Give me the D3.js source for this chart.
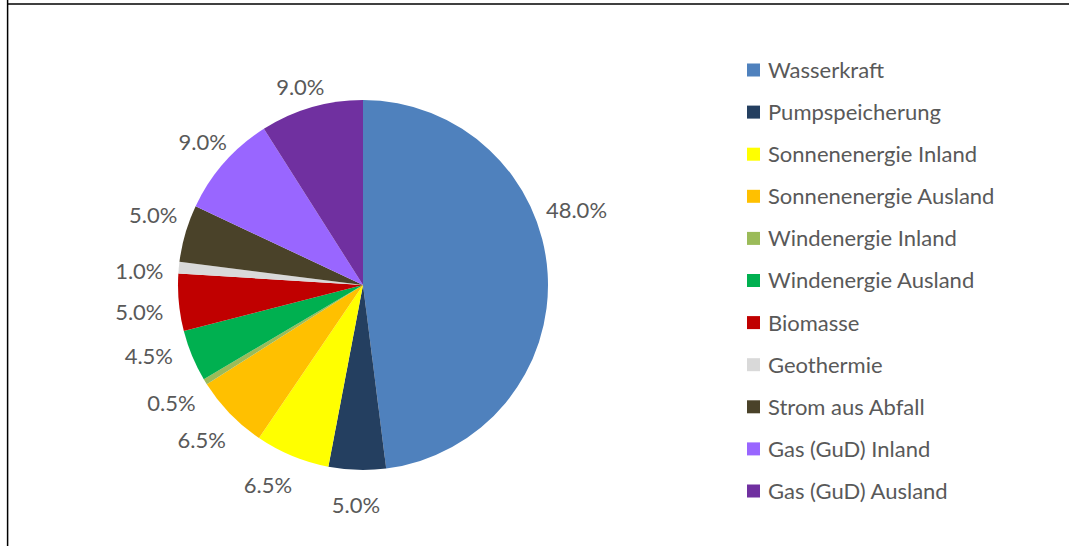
<!DOCTYPE html>
<html>
<head>
<meta charset="utf-8">
<script src="https://cdn.jsdelivr.net/npm/d3@7"></script>
<style>
  html, body { margin: 0; padding: 0; background: #ffffff; }
  svg { display: block; }
  text { font-family: Lato, "Open Sans", sans-serif; fill: #595959; }
</style>
</head>
<body>
<svg id="chart" width="1069" height="546"></svg>
<script>
// Electricity mix by source (share in %)
const categories = [
  "Wasserkraft", "Pumpspeicherung", "Sonnenenergie Inland", "Sonnenenergie Ausland",
  "Windenergie Inland", "Windenergie Ausland", "Biomasse", "Geothermie",
  "Strom aus Abfall", "Gas (GuD) Inland", "Gas (GuD) Ausland"
];
const shares = [48.0, 5.0, 6.5, 6.5, 0.5, 4.5, 5.0, 1.0, 5.0, 9.0, 9.0];
const colors = [
  "#4f81bd", "#243f60", "#ffff00", "#ffc000", "#9bbb59", "#00b050",
  "#c00000", "#d9d9d9", "#4a4229", "#9966ff", "#7030a0"
];
// Label directions (degrees clockwise from 12 o'clock) where the label was pulled away from its slice's midline
const labelAngleHints = {
  "Wasserkraft": 67.5,
  "Sonnenenergie Inland": 205,
  "Windenergie Ausland": 252.4,
  "Strom aus Abfall": 291,
  "Gas (GuD) Inland": 314.5
};

const svg = d3.select("#chart");
const cx = 363, cy = 285, radius = 185;

// Frame (top and left edges)
svg.append("line").attr("x1", 7.6).attr("y1", 0).attr("x2", 7.6).attr("y2", 546)
  .attr("stroke", "#000").attr("stroke-width", 1.5);
svg.append("line").attr("x1", 7).attr("y1", 4).attr("x2", 1069).attr("y2", 4)
  .attr("stroke", "#000").attr("stroke-width", 1.5);

const data = categories.map((c, i) => ({ name: c, value: shares[i], color: colors[i] }));
const pie = d3.pie().value(d => d.value).sort(null);
const arcs = pie(data);
const arc = d3.arc().innerRadius(0).outerRadius(radius);

const g = svg.append("g").attr("transform", `translate(${cx},${cy})`);
g.selectAll("path.slice").data(arcs).join("path")
  .attr("class", "slice")
  .attr("d", arc)
  .attr("fill", d => d.data.color);

// Data labels placed just outside the rim
const fmt = d3.format(".1f");
const gap = 200.5, halfH = 12.9, dyOff = 6.6, capHalf = 7.9;
const labels = svg.append("g");
arcs.forEach(a => {
  const t = labels.append("text")
    .attr("text-anchor", "middle")
    .attr("font-size", 22)
    .text(fmt(a.data.value) + "%");
  const w = t.node().getComputedTextLength();
  const hint = labelAngleHints[a.data.name];
  const ang = hint !== undefined ? hint * Math.PI / 180 : (a.startAngle + a.endAngle) / 2;
  const ux = Math.sin(ang), uy = -Math.cos(ang);
  const x = cx + gap * ux + ux * w / 2;
  const y = cy + gap * uy + uy * halfH + dyOff;
  t.attr("x", x).attr("y", y + capHalf);
});

// Legend
const legendX = 747, legendY0 = 70, legendStep = 42.1, sq = 13;
const legend = svg.append("g");
data.forEach((d, i) => {
  const y = legendY0 + i * legendStep;
  legend.append("rect")
    .attr("x", legendX).attr("y", y - sq / 2)
    .attr("width", sq).attr("height", sq)
    .attr("fill", d.color);
  legend.append("text")
    .attr("x", legendX + 21).attr("y", y + capHalf)
    .attr("font-size", 22)
    .text(d.name);
});
</script>
</body>
</html>
